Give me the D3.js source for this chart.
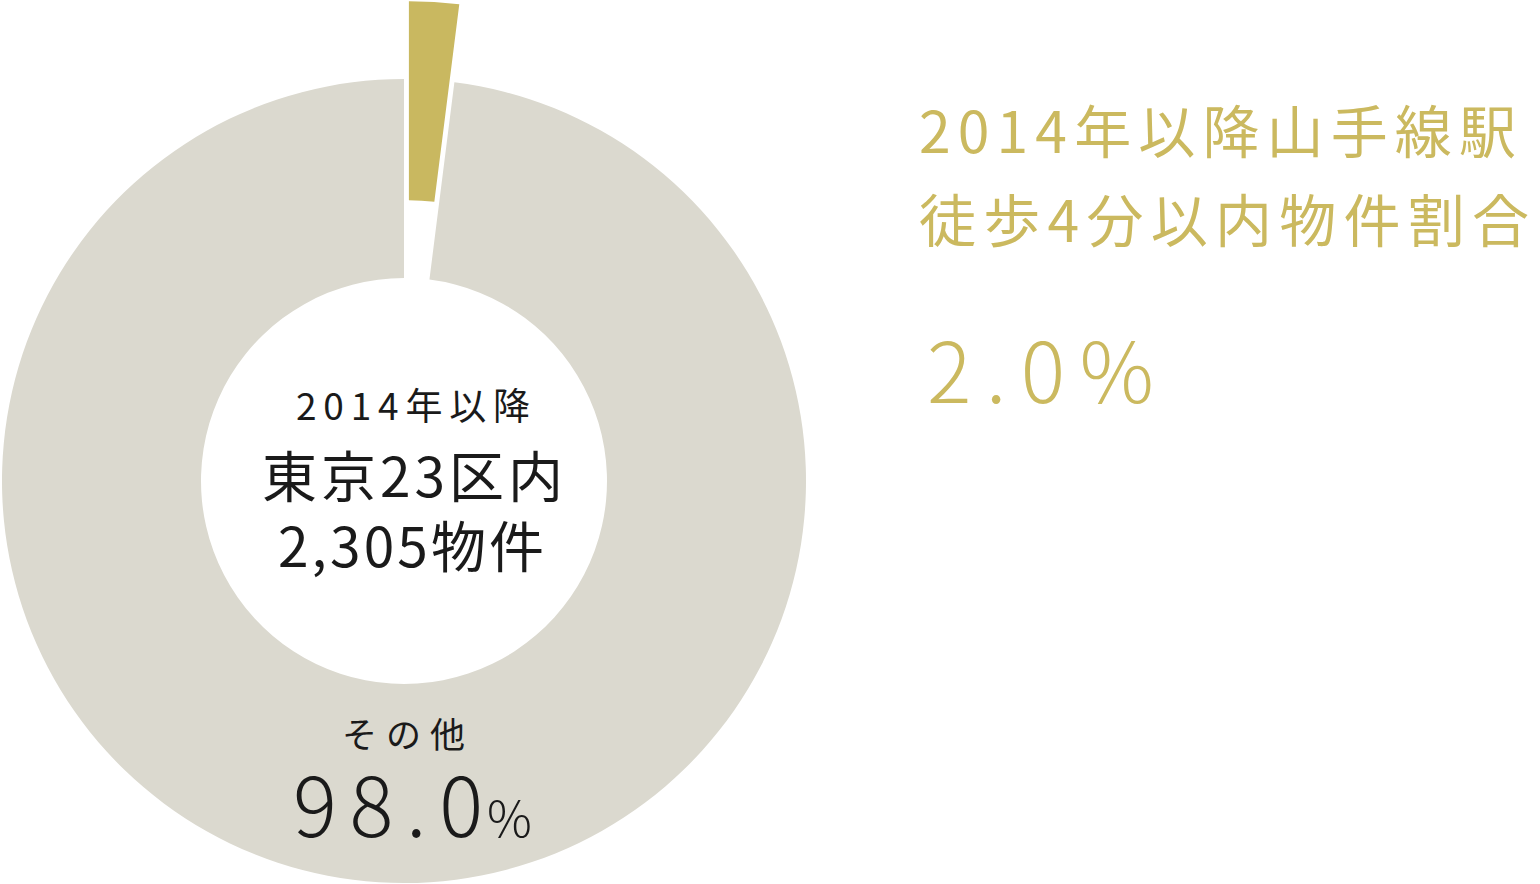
<!DOCTYPE html>
<html lang="ja">
<head>
<meta charset="utf-8">
<script src="https://cdn.jsdelivr.net/npm/d3@7"></script>
<style>
  html, body { margin: 0; padding: 0; background: #fff; }
  svg text { font-family: "Noto Sans CJK JP", "Noto Sans", sans-serif; }
</style>
</head>
<body>
<div class="donut-chart"></div>
<script>
// data
const categories = ['駅徒歩4分以内', 'その他'];
const shares = [2.0, 98.0];
const sliceColors = ['#c9b860', '#dbd9cf'];
const centerLines = ['2014年以降', '東京23区内', '2,305物件'];
const titleLines = ['2014年以降山手線駅', '徒歩4分以内物件割合'];

const width = 1540;
const height = 884;
const cx = 404, cy = 481;
const outerR = 402, innerR = 203;
const explode = 78;
const gold = '#cbb95f';

const svg = d3.select('.donut-chart')
    .append('svg')
    .attr('width', width)
    .attr('height', height);

const pie = d3.pie().sort(null).value(d => d);
const arc = d3.arc().innerRadius(innerR).outerRadius(outerR);
const arcs = pie(shares);

const g = svg.append('g')
    .attr('transform', `translate(${cx},${cy})`);

g.selectAll('path.slice')
    .data(arcs)
    .enter()
    .append('path')
    .attr('class', 'slice')
    .attr('d', arc)
    .attr('fill', (d, i) => sliceColors[i])
    .attr('transform', (d, i) => {
        if (i !== 0) return null;
        // pull the small slice out along its bisector
        const a = (d.startAngle + d.endAngle) / 2;
        return `translate(${Math.sin(a) * explode},${-Math.cos(a) * explode})`;
    });

// center label
const centerSpec = [
  { x: 296, y: 420, size: 37, len: 234 },
  { x: 262, y: 497, size: 55, len: 301 },
  { x: 278, y: 567, size: 55, len: 266 }
];
centerLines.forEach((t, i) => {
  const s = centerSpec[i];
  svg.append('text')
      .attr('x', s.x)
      .attr('y', s.y)
      .attr('fill', '#1a1a1a')
      .attr('textLength', s.len)
      .attr('lengthAdjust', 'spacing')
      .style('font-size', s.size + 'px')
      .text(t);
});

// "その他" label on the big slice
svg.append('text')
    .attr('x', 342)
    .attr('y', 748)
    .attr('fill', '#1a1a1a')
    .attr('textLength', 123)
    .attr('lengthAdjust', 'spacing')
    .style('font-size', '35px')
    .text(categories[1]);

svg.append('text')
    .attr('x', 293)
    .attr('y', 837)
    .attr('fill', '#1a1a1a')
    .attr('textLength', 190)
    .attr('lengthAdjust', 'spacing')
    .style('font-size', '82px')
    .style('font-weight', 300)
    .text(shares[1].toFixed(1));

svg.append('text')
    .attr('x', 487)
    .attr('y', 837)
    .attr('fill', '#1a1a1a')
    .style('font-size', '50px')
    .style('font-weight', 300)
    .text('%');

// right-hand title
const titleSpec = [
  { x: 919, y: 153, len: 597 },
  { x: 919, y: 242, len: 610 }
];
titleLines.forEach((t, i) => {
  const s = titleSpec[i];
  svg.append('text')
      .attr('x', s.x)
      .attr('y', s.y)
      .attr('fill', gold)
      .attr('textLength', s.len)
      .attr('lengthAdjust', 'spacing')
      .style('font-size', '57px')
      .text(t);
});

svg.append('text')
    .attr('x', 927)
    .attr('y', 403)
    .attr('fill', gold)
    .attr('textLength', 227)
    .attr('lengthAdjust', 'spacing')
    .style('font-size', '83px')
    .style('font-weight', 300)
    .text(shares[0].toFixed(1) + '%');
</script>
</body>
</html>
